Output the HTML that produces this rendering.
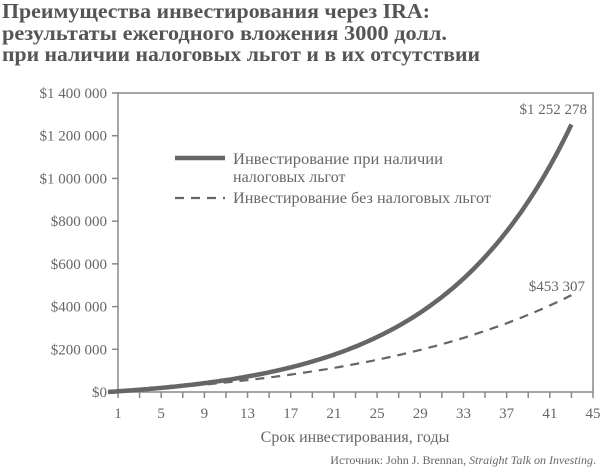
<!DOCTYPE html>
<html><head><meta charset="utf-8"><style>
body{margin:0;background:#fff;width:600px;height:470px;overflow:hidden}
svg{display:block}
text{font-family:"Liberation Serif",serif;fill:#666}
</style></head><body>
<svg id="s" width="600" height="470" xmlns="http://www.w3.org/2000/svg">
<g font-weight="bold" font-size="21">
<text x="2" y="18" style="fill:#555" textLength="428" lengthAdjust="spacingAndGlyphs">Преимущества инвестирования через IRA:</text>
<text x="2" y="40" style="fill:#555" textLength="445" lengthAdjust="spacingAndGlyphs">результаты ежегодного вложения 3000 долл.</text>
<text x="2" y="61" style="fill:#555" textLength="478" lengthAdjust="spacingAndGlyphs">при наличии налоговых льгот и в их отсутствии</text>
</g>
<rect x="118" y="93" width="475" height="299" fill="none" stroke="#888" stroke-width="1.5"/>
<g id="ax" stroke="#888" stroke-width="1.5"></g>
<g id="lab" font-size="15" text-anchor="end"></g>
<g id="xl" font-size="15" text-anchor="middle"></g>
<path id="p1" fill="none" stroke="#666" stroke-width="4.5"/>
<path id="p2" fill="none" stroke="#666" stroke-width="2.2" stroke-dasharray="9,7"/>
<text x="587" y="114" font-size="15" text-anchor="end">$1 252 278</text>
<text x="585" y="291" font-size="15" text-anchor="end">$453 307</text>
<line x1="175" y1="158" x2="225" y2="158" stroke="#666" stroke-width="4.5"/>
<text x="233" y="164" font-size="16" textLength="210" lengthAdjust="spacingAndGlyphs">Инвестирование при наличии</text>
<text x="233" y="182" font-size="16">налоговых льгот</text>
<line x1="175" y1="198" x2="225" y2="198" stroke="#666" stroke-width="2.2" stroke-dasharray="9,7"/>
<text x="233" y="203" font-size="16" textLength="258" lengthAdjust="spacingAndGlyphs">Инвестирование без налоговых льгот</text>
<text x="355" y="442" font-size="16" text-anchor="middle">Срок инвестирования, годы</text>
<text x="596" y="464" font-size="12" text-anchor="end">Источник: John J. Brennan, <tspan font-style="italic">Straight Talk on Investing</tspan>.</text>
</svg>
<script>
var X=function(n){return 118+(n-1)*475/44},Y=function(v){return 392-v/1400000*299};
var ax=document.getElementById('ax'),lab=document.getElementById('lab'),xl=document.getElementById('xl'),h1='',h2='',h3='';
for(var i=0;i<=7;i++){var y=Y(i*200000);h1+='<line x1="112" y1="'+y+'" x2="118" y2="'+y+'"/>';
var s=i==0?'$0':'$'+(i*200000).toLocaleString('en').replace(/,/g,' ');h2+='<text x="107" y="'+(y+5)+'">'+s+'</text>';}
for(var n=1;n<=45;n+=2){h1+='<line x1="'+X(n)+'" y1="392" x2="'+X(n)+'" y2="398"/>';}
for(var n=1;n<=45;n+=4){h3+='<text x="'+X(n)+'" y="418">'+n+'</text>';}
ax.innerHTML=h1;lab.innerHTML=h2;xl.innerHTML=h3;
function fv(r,n){return 3000*(Math.pow(1+r,n)-1)/r*(1+r)}
function solve(t){var a=0.001,b=0.2;for(var k=0;k<60;k++){var m=(a+b)/2;if(fv(m,43)<t)a=m;else b=m;}return a}
function path(t,x0){var r=solve(t),d='';for(var n=0;n<=43;n+=0.25){var x=n<1?x0+(X(1)-x0)*n:X(n);var v=n<1?fv(r,1)*n:fv(r,n);d+=(d?'L':'M')+x.toFixed(1)+','+Y(v).toFixed(1);}return d}
document.getElementById('p1').setAttribute('d',path(1252278,108));
document.getElementById('p2').setAttribute('d',path(453307,112));
</script>
</body></html>
